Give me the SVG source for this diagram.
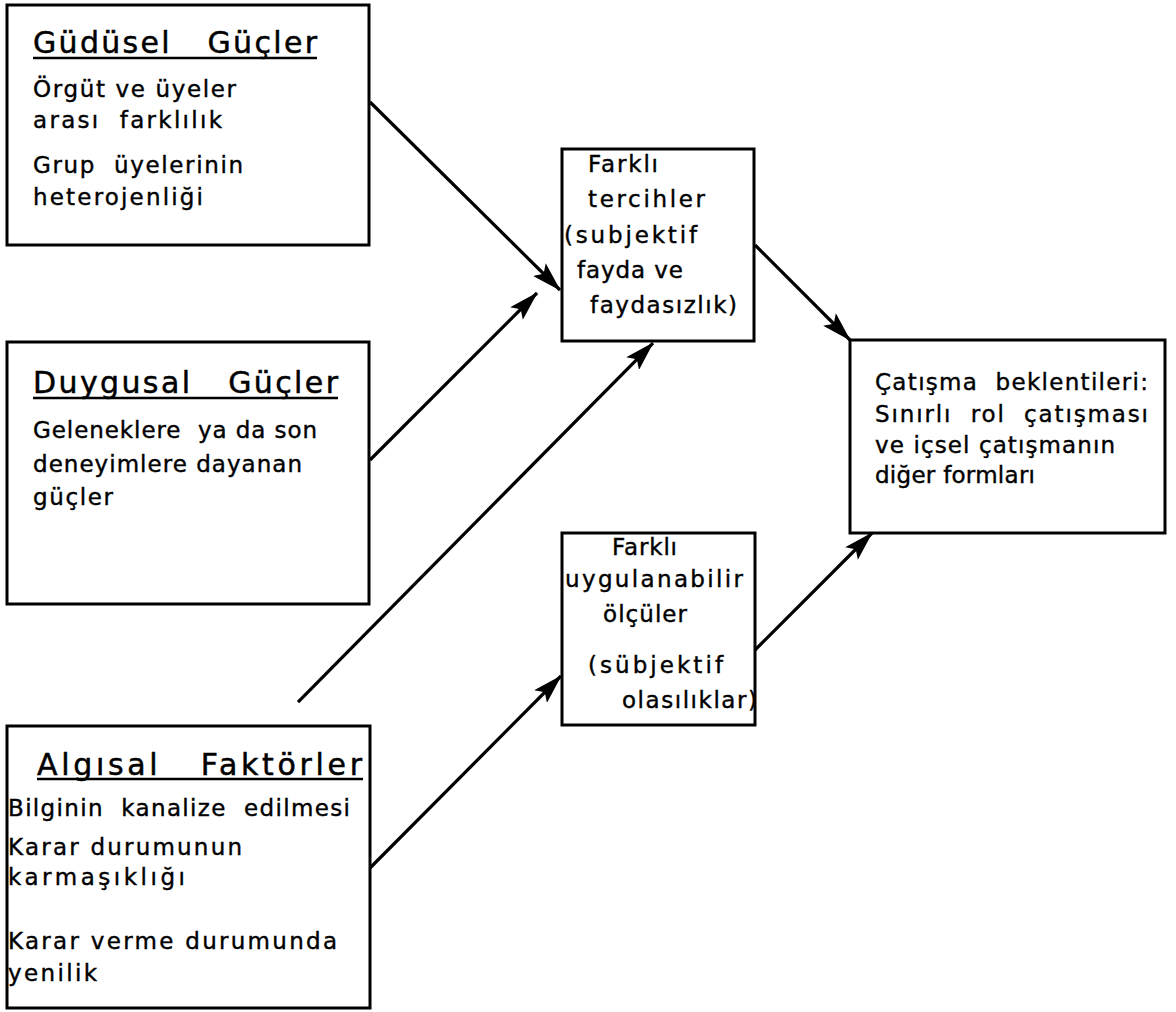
<svg xmlns="http://www.w3.org/2000/svg" width="1176" height="1012" viewBox="0 0 1176 1012">
  <style>
    .box { fill: #fff; stroke: #000; stroke-width: 3; }
    .title { font-family: "DejaVu Sans", "Liberation Sans", sans-serif; font-size: 30px; fill: #000; stroke: #000; stroke-width: 0.5; white-space: pre; }
    .body { font-family: "DejaVu Sans", "Liberation Sans", sans-serif; font-size: 23px; fill: #000; stroke: #000; stroke-width: 0.4; white-space: pre; }
    .ul { stroke: #000; stroke-width: 2.4; }
    .edge { stroke: #000; stroke-width: 3.2; fill: none; marker-end: url(#arrow); }
  </style>
  <defs>
    <marker id="arrow" markerUnits="userSpaceOnUse" markerWidth="32" markerHeight="18" refX="29" refY="9" orient="auto">
      <path d="M0,0 L30,9 L0,18 L6,9 Z" fill="#000"/>
    </marker>
  </defs>
  <rect width="1176" height="1012" fill="#fff"/>

  <!-- motivational forces -->
  <g id="gudusel">
    <rect class="box" x="7" y="5" width="362" height="240"/>
    <text class="title" x="33" y="53" textLength="284" lengthAdjust="spacing" xml:space="preserve">Güdüsel   Güçler</text>
    <line class="ul" x1="33" y1="58" x2="317" y2="58"/>
    <text class="body" x="33" y="97" textLength="203" lengthAdjust="spacing">Örgüt ve üyeler</text>
    <text class="body" x="33" y="128" textLength="189" lengthAdjust="spacing" xml:space="preserve">arası  farklılık</text>
    <text class="body" x="33" y="173" textLength="210" lengthAdjust="spacing" xml:space="preserve">Grup  üyelerinin</text>
    <text class="body" x="33" y="205" textLength="170" lengthAdjust="spacing">heterojenliği</text>
  </g>

  <!-- emotional forces -->
  <g id="duygusal">
    <rect class="box" x="7" y="342" width="362" height="262"/>
    <text class="title" x="33" y="393" textLength="305" lengthAdjust="spacing" xml:space="preserve">Duygusal   Güçler</text>
    <line class="ul" x1="33" y1="398" x2="338" y2="398"/>
    <text class="body" x="33" y="438" textLength="284" lengthAdjust="spacing" xml:space="preserve">Geleneklere  ya da son</text>
    <text class="body" x="33" y="472" textLength="269" lengthAdjust="spacing">deneyimlere dayanan</text>
    <text class="body" x="33" y="505" textLength="80" lengthAdjust="spacing">güçler</text>
  </g>

  <!-- perceptual factors -->
  <g id="algisal">
    <rect class="box" x="7" y="726" width="363" height="282"/>
    <text class="title" x="37" y="775" textLength="325" lengthAdjust="spacing" xml:space="preserve">Algısal   Faktörler</text>
    <line class="ul" x1="37" y1="779" x2="363" y2="779"/>
    <text class="body" x="8" y="816" textLength="342" lengthAdjust="spacing" xml:space="preserve">Bilginin  kanalize  edilmesi</text>
    <text class="body" x="8" y="855" textLength="234" lengthAdjust="spacing">Karar durumunun</text>
    <text class="body" x="8" y="885" textLength="177" lengthAdjust="spacing">karmaşıklığı</text>
    <text class="body" x="8" y="949" textLength="329" lengthAdjust="spacing">Karar verme durumunda</text>
    <text class="body" x="8" y="981" textLength="89" lengthAdjust="spacing">yenilik</text>
  </g>

  <!-- differing preferences -->
  <g id="tercihler">
    <rect class="box" x="562" y="149" width="192" height="192"/>
    <text class="body" x="588" y="172" textLength="70" lengthAdjust="spacing">Farklı</text>
    <text class="body" x="588" y="207" textLength="117" lengthAdjust="spacing">tercihler</text>
    <text class="body" x="564" y="243" textLength="133" lengthAdjust="spacing">(subjektif</text>
    <text class="body" x="577" y="278" textLength="106" lengthAdjust="spacing">fayda ve</text>
    <text class="body" x="590" y="313" textLength="147" lengthAdjust="spacing">faydasızlık)</text>
  </g>

  <!-- differing applicable measures -->
  <g id="olculer">
    <rect class="box" x="562" y="533" width="193" height="192"/>
    <text class="body" x="612" y="555" textLength="65" lengthAdjust="spacing">Farklı</text>
    <text class="body" x="565" y="587" textLength="178" lengthAdjust="spacing">uygulanabilir</text>
    <text class="body" x="603" y="622" textLength="84" lengthAdjust="spacing">ölçüler</text>
    <text class="body" x="588" y="673" textLength="135" lengthAdjust="spacing">(sübjektif</text>
    <text class="body" x="622" y="708" textLength="135" lengthAdjust="spacing">olasılıklar)</text>
  </g>

  <!-- conflict expectations -->
  <g id="catisma">
    <rect class="box" x="850" y="340" width="315" height="193"/>
    <text class="body" x="875" y="390" textLength="273" lengthAdjust="spacing" xml:space="preserve">Çatışma  beklentileri:</text>
    <text class="body" x="875" y="422" textLength="273" lengthAdjust="spacing" xml:space="preserve">Sınırlı  rol  çatışması</text>
    <text class="body" x="875" y="453" textLength="240" lengthAdjust="spacing">ve içsel çatışmanın</text>
    <text class="body" x="875" y="483" textLength="160" lengthAdjust="spacing">diğer formları</text>
  </g>

  <!-- connectors -->
  <g id="connectors">
    <line class="edge" x1="370" y1="102" x2="560" y2="290"/>
    <line class="edge" x1="370" y1="460" x2="537" y2="293"/>
    <line class="edge" x1="298" y1="702" x2="653" y2="343"/>
    <line class="edge" x1="370" y1="868" x2="561" y2="676"/>
    <line class="edge" x1="755" y1="245" x2="850" y2="340"/>
    <line class="edge" x1="755" y1="650" x2="872" y2="533"/>
  </g>
</svg>
